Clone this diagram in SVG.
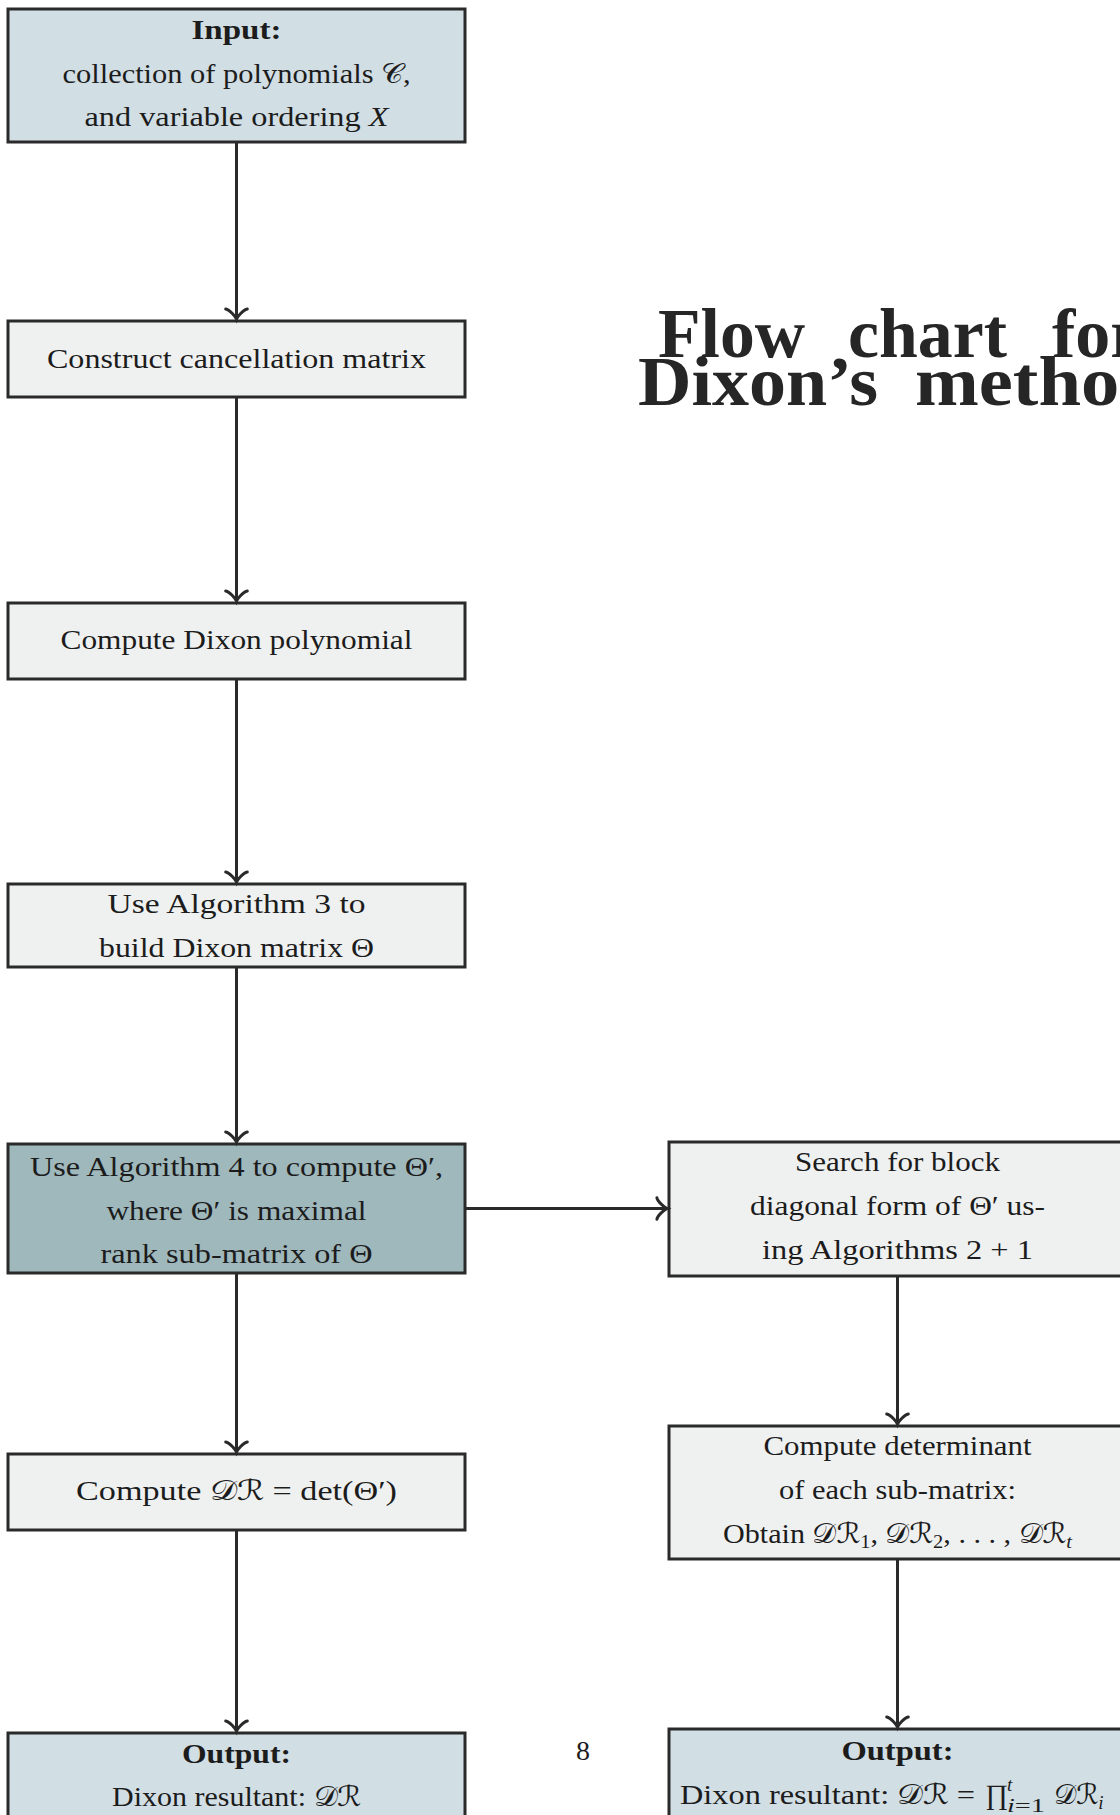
<svg xmlns="http://www.w3.org/2000/svg" width="1120" height="1815" viewBox="0 0 1120 1815">
<style>
.box{stroke:#2a2a2a;stroke-width:3}
.in{fill:#d1dee4}
.lt{fill:#eff1f1}
.dk{fill:#9fb8bc}
.t{font-family:"Liberation Serif",serif;font-size:28px;fill:#1c1c1c;text-anchor:middle}
.s{font-family:"Liberation Serif",serif;font-size:28px;fill:#1c1c1c}
.b{font-weight:bold}
.i{font-style:italic}
.m{font-family:"DejaVu Serif","DejaVu Sans",serif;font-style:normal}
.sub{font-size:19px}
.title{font-family:"Liberation Serif",serif;font-weight:bold;font-size:70px;fill:#262626}
.conn{stroke:#2a2a2a;stroke-width:3;fill:none}
</style>
<defs>
<marker id="arr" markerUnits="userSpaceOnUse" viewBox="-14 -14 16 28" markerWidth="16" markerHeight="28" refX="0" refY="0" orient="auto" style="overflow:visible">
<path d="M-10.1,-10.8 C-9.4,-6.75 -2,-0.7 0,0 C-2,0.7 -9.4,6.75 -10.1,10.8" fill="none" stroke="#2a2a2a" stroke-width="3" stroke-linecap="round"/>
</marker>
</defs>

<g id="title">
<text class="title" x="658" y="357" textLength="147" lengthAdjust="spacingAndGlyphs">Flow</text>
<text class="title" x="848" y="357" textLength="159" lengthAdjust="spacingAndGlyphs">chart</text>
<text class="title" x="1052" y="357">for</text>
<text class="title" x="638" y="405" textLength="240" lengthAdjust="spacingAndGlyphs">Dixon’s</text>
<text class="title" x="915" y="405" textLength="247" lengthAdjust="spacingAndGlyphs">method</text>
</g>

<g id="input">
<rect class="box in" x="8" y="9" width="457" height="133"/>
<text class="t b" x="236.5" y="39" textLength="90" lengthAdjust="spacingAndGlyphs">Input:</text>
<text class="t" x="236.5" y="83" textLength="348" lengthAdjust="spacingAndGlyphs">collection of polynomials <tspan class="m">𝒞</tspan>,</text>
<text class="t" x="236.5" y="126" textLength="304" lengthAdjust="spacingAndGlyphs">and variable ordering <tspan class="i">X</tspan></text>
</g>

<g id="construct">
<rect class="box lt" x="8" y="321" width="457" height="76"/>
<text class="t" x="236.5" y="368" textLength="379" lengthAdjust="spacingAndGlyphs">Construct cancellation matrix</text>
</g>

<g id="dixonpoly">
<rect class="box lt" x="8" y="603" width="457" height="76"/>
<text class="t" x="236.5" y="649" textLength="352" lengthAdjust="spacingAndGlyphs">Compute Dixon polynomial</text>
</g>

<g id="alg3">
<rect class="box lt" x="8" y="884" width="457" height="83"/>
<text class="t" x="236.5" y="913" textLength="258" lengthAdjust="spacingAndGlyphs">Use Algorithm 3 to</text>
<text class="t" x="236.5" y="957" textLength="275" lengthAdjust="spacingAndGlyphs">build Dixon matrix Θ</text>
</g>

<g id="alg4">
<rect class="box dk" x="8" y="1144" width="457" height="129"/>
<text class="t" x="236.5" y="1176" textLength="413" lengthAdjust="spacingAndGlyphs">Use Algorithm 4 to compute Θ′,</text>
<text class="t" x="236.5" y="1220" textLength="260" lengthAdjust="spacingAndGlyphs">where Θ′ is maximal</text>
<text class="t" x="236.5" y="1263" textLength="272" lengthAdjust="spacingAndGlyphs">rank sub-matrix of Θ</text>
</g>

<g id="computeDR">
<rect class="box lt" x="8" y="1454" width="457" height="76"/>
<text class="t" x="236.5" y="1500" textLength="321" lengthAdjust="spacingAndGlyphs">Compute <tspan class="m">𝒟ℛ</tspan>  =  det(Θ′)</text>
</g>

<g id="outputL">
<rect class="box in" x="8" y="1733" width="457" height="100"/>
<text class="t b" x="236.5" y="1763" textLength="109" lengthAdjust="spacingAndGlyphs">Output:</text>
<text class="t" x="236.5" y="1806" textLength="249" lengthAdjust="spacingAndGlyphs">Dixon resultant: <tspan class="m">𝒟ℛ</tspan></text>
</g>

<g id="search">
<rect class="box lt" x="669" y="1142" width="457" height="134"/>
<text class="t" x="897.5" y="1171" textLength="205" lengthAdjust="spacingAndGlyphs">Search for block</text>
<text class="t" x="897.5" y="1215" textLength="295" lengthAdjust="spacingAndGlyphs">diagonal form of Θ′ us-</text>
<text class="t" x="897.5" y="1259" textLength="271" lengthAdjust="spacingAndGlyphs">ing Algorithms 2 + 1</text>
</g>

<g id="determinant">
<rect class="box lt" x="669" y="1426" width="457" height="133"/>
<text class="t" x="897.5" y="1455" textLength="268" lengthAdjust="spacingAndGlyphs">Compute determinant</text>
<text class="t" x="897.5" y="1499" textLength="237" lengthAdjust="spacingAndGlyphs">of each sub-matrix:</text>
<text class="t" x="897.5" y="1543" textLength="349" lengthAdjust="spacingAndGlyphs">Obtain <tspan class="m">𝒟ℛ</tspan><tspan class="sub" dy="5">1</tspan><tspan dy="-5">, </tspan><tspan class="m">𝒟ℛ</tspan><tspan class="sub" dy="5">2</tspan><tspan dy="-5">, . . . , </tspan><tspan class="m">𝒟ℛ</tspan><tspan class="sub i" dy="5">t</tspan></text>
</g>

<g id="outputR">
<rect class="box in" x="669" y="1729" width="457" height="100"/>
<text class="t b" x="897.5" y="1760" textLength="112" lengthAdjust="spacingAndGlyphs">Output:</text>
<text class="s" x="680" y="1804" textLength="295" lengthAdjust="spacingAndGlyphs">Dixon resultant: <tspan class="m">𝒟ℛ</tspan> =</text>
<text class="s" x="985" y="1804">∏</text>
<text class="s sub i" x="1007" y="1791">t</text>
<text class="s sub" x="1007" y="1812" textLength="38" lengthAdjust="spacingAndGlyphs"><tspan class="i">i</tspan>=1</text>
<text class="s" x="1054" y="1804"><tspan class="m">𝒟ℛ</tspan><tspan class="sub i" dy="5">i</tspan></text>
</g>

<g id="page">
<text class="t" x="583" y="1760">8</text>
</g>

<g id="connectors">
<path class="conn" marker-end="url(#arr)" d="M236.5,142 V319"/>
<path class="conn" marker-end="url(#arr)" d="M236.5,397 V601"/>
<path class="conn" marker-end="url(#arr)" d="M236.5,679 V882"/>
<path class="conn" marker-end="url(#arr)" d="M236.5,967 V1142"/>
<path class="conn" marker-end="url(#arr)" d="M236.5,1273 V1452"/>
<path class="conn" marker-end="url(#arr)" d="M236.5,1530 V1731"/>
<path class="conn" marker-end="url(#arr)" d="M465,1208.5 H667"/>
<path class="conn" marker-end="url(#arr)" d="M897.5,1276 V1424"/>
<path class="conn" marker-end="url(#arr)" d="M897.5,1559 V1727"/>
</g>
</svg>
